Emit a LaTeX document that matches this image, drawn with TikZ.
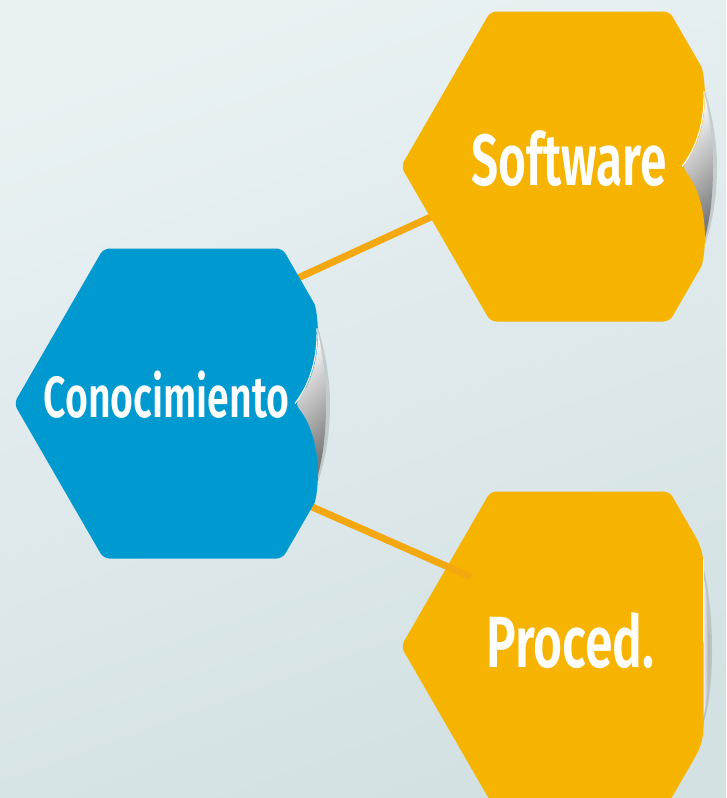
\documentclass[tikz,border=0pt]{standalone}
\usepackage{fontspec}
\setmainfont{Fira Sans}[FakeStretch=0.67, BoldFont={* SemiBold}]
\definecolor{hexblue}{RGB}{0,153,208}
\definecolor{hexyellow}{RGB}{246,180,0}
\definecolor{linkorange}{RGB}{244,168,16}
\definecolor{bgtop}{RGB}{233,241,243}
\definecolor{bgbot}{RGB}{211,225,227}
\tikzset{
  link/.style={draw=linkorange, line width=7pt},
  curlshade/.style={top color=white, middle color=black!28, bottom color=black!52, shading angle=45},
  curlshadow/.style={fill=black, opacity=0.13},
  hilite/.style={draw=white, line width=1.1pt},
  hexlabel/.style={text=white, anchor=base, inner sep=0pt},
}
\newcommand\curlhex[3]{%
 \begin{scope}[shift={(#1,#2)}]
  \fill[curlshadow] (103,0) .. controls (121,-24) and (126,-53) .. (125,-76)
     .. controls (134,-45) and (137,-20) .. (137,0)
     .. controls (137,25) and (134,52) .. (125,78)
     .. controls (126,53) and (121,24) .. (103,0) -- cycle;
  \shade[curlshade] (102,0) .. controls (120.6,-24) and (124.8,-53.4) .. (124,-75.2)
     .. controls (131,-45) and (133,-20) .. (133,0)
     .. controls (133,25) and (131,50) .. (124,75.2)
     .. controls (124.8,53.4) and (120.6,24) .. (102,0) -- cycle;
  \fill[#3, rounded corners=6pt] (-179,0) -- (-89.5,-155) -- (89.5,-155) -- (118.4,-105)
     .. controls (124,-95) and (133,-40) .. (102,0)
     .. controls (133,40) and (124,95) .. (118.4,105)
     -- (89.5,155) -- (-89.5,155) -- cycle;
  \draw[hilite] (123.97,-75.2) .. controls (124.8,-53.4) and (120.6,-24) .. (102,0);
 \end{scope}}
\newcommand\flathex[3]{%
 \begin{scope}[shift={(#1,#2)}]
  \fill[curlshadow] (123,-80) .. controls (134,-40) and (136,40) .. (123,78) -- cycle;
  \shade[left color=white, right color=black!50] (122,-78) .. controls (131,-40) and (133,40) .. (122,75) -- cycle;
  \fill[#3, rounded corners=6pt] (-179,0) -- (-89.5,-155) -- (89.5,-155)
     [rounded corners=14pt] -- (123.5,-96) -- (123.5,96) [rounded corners=6pt]
     -- (89.5,155) -- (-89.5,155) -- cycle;
  \draw[hilite] (123.5,-88) -- (123.5,-5);
 \end{scope}}
\begin{document}
\begin{tikzpicture}[x=1pt,y=-1pt]
\useasboundingbox (0,0) rectangle (726,798);
\clip (0,0) rectangle (726,798);
\shade[top color=bgtop, bottom color=bgbot, shading angle=20] (-10,-10) rectangle (736,808);
% connector endpoints
\coordinate (c1a) at (250,300);
\coordinate (c1b) at (470,199);
\coordinate (c2a) at (260,484);
\coordinate (c2b) at (471,577);
% connector behind Software
\draw[link] (c1a) -- (c1b);
% Software hexagon
\curlhex{580}{166.5}{hexyellow}
% Proced hexagon
\flathex{580}{646.5}{hexyellow}
% connector to Proced
\draw[link] (c2a) -- (c2b);
% Conocimiento hexagon
\curlhex{193}{403.5}{hexblue}
% labels
\node[hexlabel, font=\bfseries\fontsize{58}{64}\selectfont] (conoc) at (166.5,417) {\scalebox{1.01}[1]{Conocimiento}};
\node[hexlabel, font=\bfseries\fontsize{72.6}{80}\selectfont] (soft) at (569,185) {\scalebox{0.985}[1]{Software}};
\node[hexlabel, font=\bfseries\fontsize{72.6}{80}\selectfont] (proc) at (570.5,667) {\scalebox{1.025}[1]{Proced.}};
\end{tikzpicture}
\end{document}
